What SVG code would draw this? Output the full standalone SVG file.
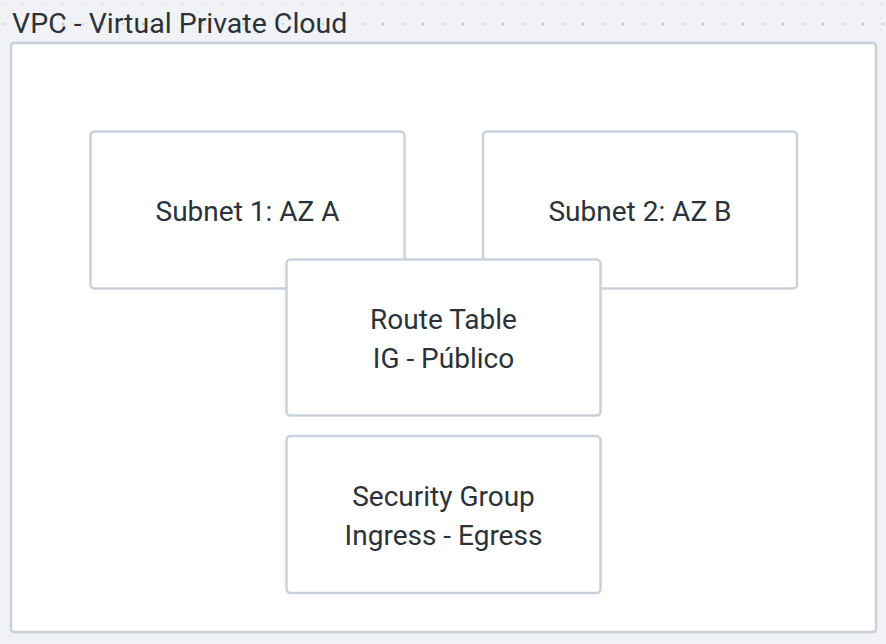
<svg xmlns="http://www.w3.org/2000/svg" width="886" height="644" viewBox="0 0 886 644">
<defs>
<pattern id="dots" x="3" y="4" width="40" height="40" patternUnits="userSpaceOnUse">
<circle cx="0" cy="0" r="1" fill="#c4c9d0"/>
<circle cx="20" cy="0" r="1" fill="#c4c9d0"/>
<circle cx="40" cy="0" r="1" fill="#c4c9d0"/>
<circle cx="0" cy="20" r="1" fill="#c4c9d0"/>
<circle cx="20" cy="20" r="1.5" fill="#c4c9d0"/>
<circle cx="40" cy="20" r="1" fill="#c4c9d0"/>
</pattern>
<style>
.box{fill:#ffffff;stroke:#c9d2db;stroke-width:2.5}
.t{font-family:Roboto,"Liberation Sans",sans-serif;font-size:28px;fill:#2c323a;text-anchor:middle}
</style>
</defs>
<rect width="886" height="644" fill="#f0f2f6"/>
<rect x="0" y="0" width="886" height="40" fill="url(#dots)"/>
<g id="vpc">
<rect class="box" x="11" y="43" width="865" height="589" rx="3"/>
<text x="12" y="33" style="font-family:Roboto,'Liberation Sans',sans-serif;font-size:28.5px;fill:#2c323a">VPC - Virtual Private Cloud</text>
</g>
<g id="connectors"></g>
<g id="subnet1">
<rect class="box" x="90.5" y="131.5" width="314" height="157" rx="4"/>
<text class="t" x="247.5" y="221">Subnet 1: AZ A</text>
</g>
<g id="subnet2">
<rect class="box" x="483" y="131.5" width="314" height="157" rx="4"/>
<text class="t" x="640" y="221">Subnet 2: AZ B</text>
</g>
<g id="routetable">
<rect class="box" x="286.5" y="259.5" width="314" height="156" rx="4"/>
<text class="t" x="443.5" y="329">Route Table</text>
<text class="t" x="443.5" y="368">IG - Público</text>
</g>
<g id="securitygroup">
<rect class="box" x="286.5" y="436" width="314" height="157" rx="4"/>
<text class="t" x="443.5" y="506">Security Group</text>
<text class="t" x="443.5" y="545">Ingress - Egress</text>
</g>
</svg>
